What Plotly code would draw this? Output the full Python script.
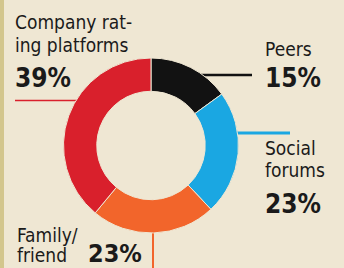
import plotly.graph_objects as go

labels = ["Peers", "Social forums", "Family/friend", "Company rating platforms"]
values = [15, 23, 23, 39]
colors = ["#121212", "#1AA7E2", "#F2652B", "#D9202C"]

W, H = 344, 268
def px(x): return x / W
def py(y): return 1 - y / H

BG = "#EFE7D3"
FONT = "DejaVu Sans Condensed, Liberation Sans Narrow, sans-serif"

fig = go.Figure(go.Pie(
    labels=labels, values=values, sort=False, direction="clockwise", rotation=0,
    hole=0.62, marker=dict(colors=colors, line=dict(color=BG, width=1)),
    textinfo="none", hoverinfo="label+percent", showlegend=False,
    domain=dict(x=[px(63.5), px(238.5)], y=[py(233), py(58)]),
))

shapes = [
    dict(type="rect", xref="paper", yref="paper", x0=0, x1=px(4), y0=0, y1=1,
         fillcolor="#D3C68D", line=dict(width=0), layer="below"),
    dict(type="line", xref="paper", yref="paper", x0=px(15), x1=px(80), y0=py(100.5), y1=py(100.5),
         line=dict(color="#D9202C", width=1.5), layer="below"),
    dict(type="line", xref="paper", yref="paper", x0=px(190), x1=px(252), y0=py(75), y1=py(75),
         line=dict(color="#121212", width=2.5), layer="below"),
    dict(type="line", xref="paper", yref="paper", x0=px(225), x1=px(290), y0=py(133), y1=py(133),
         line=dict(color="#1AA7E2", width=3), layer="below"),
    dict(type="line", xref="paper", yref="paper", x0=px(153), x1=px(153), y0=py(225), y1=py(268),
         line=dict(color="#F2652B", width=2), layer="below"),
]

def ann(text, x, y, size, bold=False):
    return dict(text=f"<b>{text}</b>" if bold else text, x=px(x), y=py(y), xref="paper", yref="paper",
                xanchor="left", yanchor="middle", showarrow=False, align="left",
                font=dict(family=FONT, size=size, color="#1A1A1A"))

annotations = [
    ann("Company rat-", 13, 22, 19),
    ann("ing platforms", 13, 45, 19),
    ann("39%", 13, 78, 26, True),
    ann("Peers", 263, 49, 19),
    ann("15%", 263, 78, 26, True),
    ann("Social", 263, 148, 19),
    ann("forums", 263, 170, 19),
    ann("23%", 263, 204, 26, True),
    ann("Family/", 15, 235, 19),
    ann("friend", 15, 255, 19),
    ann("23%", 86, 253, 25, True),
]

fig.update_layout(width=W, height=H, margin=dict(l=0, r=0, t=0, b=0),
                  paper_bgcolor=BG, plot_bgcolor=BG, shapes=shapes, annotations=annotations)
fig.write_html("out.html", config={"displayModeBar": False},
               post_script="document.body.style.margin='0';document.body.style.overflow='hidden';")
